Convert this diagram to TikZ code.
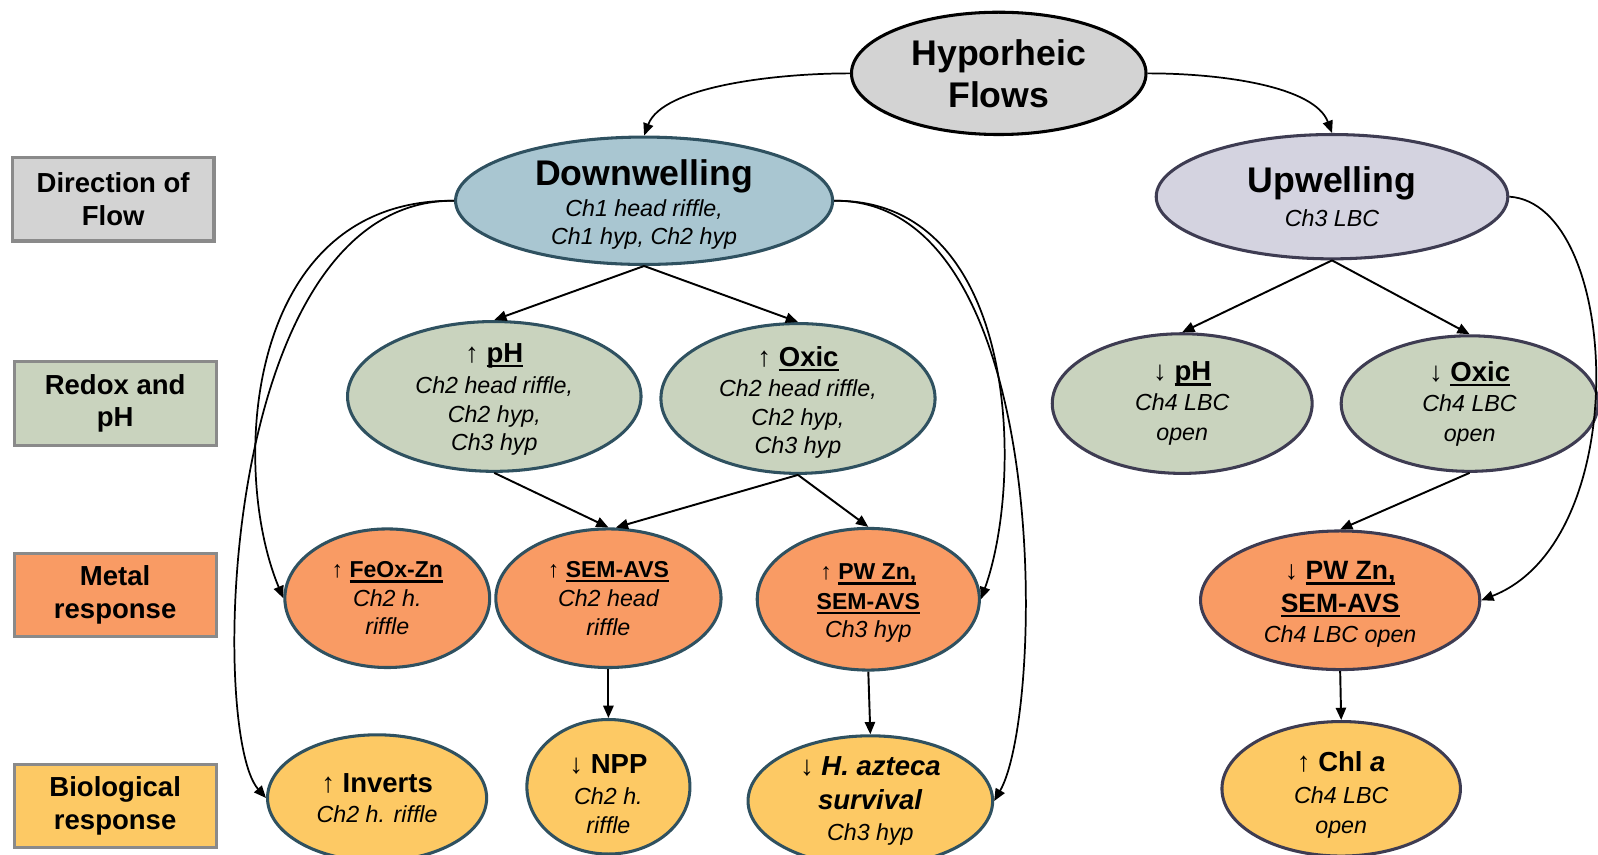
\documentclass[tikz,border=0pt]{standalone}
\usepackage{fontspec}
\setmainfont{Liberation Sans}
\usetikzlibrary{shapes.geometric,arrows.meta}
\definecolor{cGray}{HTML}{D3D3D3}
\definecolor{cBlue}{HTML}{A9C6D1}
\definecolor{cLav}{HTML}{D4D3E0}
\definecolor{cGreen}{HTML}{C9D3BE}
\definecolor{cOrange}{HTML}{F99B64}
\definecolor{cYellow}{HTML}{FDC964}
\definecolor{cTeal}{HTML}{2F5160}
\definecolor{cPurp}{HTML}{3E3C52}
\definecolor{cBoxLine}{HTML}{8A8A8A}
\newcommand\dgTitle{\fontsize{17.5pt}{20.5pt}\selectfont\bfseries\upshape}
\newcommand\dgSub{\fontsize{11.4pt}{14pt}\selectfont\itshape}
\newcommand\dgHead{\fontsize{13.5pt}{14pt}\selectfont\upshape}
\newcommand\dgHeadS{\fontsize{11.3pt}{14pt}\selectfont\upshape}
\newcommand\dgHeadM{\fontsize{13pt}{14pt}\selectfont\upshape}
\newcommand\dgLab{\fontsize{13.5pt}{16pt}\selectfont\bfseries}
\newcommand\dgUL[1]{\leavevmode\setbox0\hbox{#1}\rlap{\vrule width \wd0 height -1.3pt depth 2.5pt}\box0}
\begin{document}
\begin{tikzpicture}[x=0.5pt,y=-0.5pt,
  ell/.style={ellipse, draw, line width=1.5pt, inner sep=0pt, align=center,
     font=\fontsize{11.4pt}{14pt}\selectfont},
  lbl/.style={align=center, inner sep=0pt, font=\fontsize{11.4pt}{14pt}\selectfont},
  lbox/.style={rectangle, draw=cBoxLine, line width=1.5pt, inner sep=0pt, align=center,
     minimum width=99pt, minimum height=41pt, font=\dgLab},
  conn/.style={-{Triangle[length=6pt,width=5pt]}, line width=0.95pt},
  cconn/.style={-{Triangle[length=6pt,width=5pt]}, line width=0.85pt}]
\useasboundingbox (0,0) rectangle (1568,838);

% side labels
\node[lbox, fill=cGray] (lDir) at (111,195.5) {Direction of\\Flow};
\node[lbox, fill=cGreen] (lRed) at (113,396) {Redox and\\pH};
\node[lbox, fill=cOrange] (lMet) at (113,584) {Metal\\response};
\node[lbox, fill=cYellow] (lBio) at (113,791) {Biological\\response};

% top
\node[ell, fill=cGray, draw=black, minimum width=144.5pt, minimum height=60pt, font=\dgTitle] (hyp) at (980,72) {Hyporheic\\Flows};
\node[ell, fill=cBlue, draw=cTeal, minimum width=185pt, minimum height=62.5pt,
  label={[lbl, yshift=-2pt]center:{{\dgTitle Downwelling}\\[1pt]{\dgSub Ch1 head riffle,}\\{\dgSub Ch1 hyp, Ch2 hyp}}}] (down) at (632,197) {};
\node[ell, fill=cLav, draw=cPurp, minimum width=172.5pt, minimum height=61pt] (up) at (1307,193)
  {{\dgTitle Upwelling}\\[3pt]{\dgSub Ch3 LBC}};

% redox row
\node[ell, fill=cGreen, draw=cTeal, minimum width=144pt, minimum height=73.5pt,
  label={[lbl, yshift=-1.5pt]center:{{\dgHead ↑ \textbf{\dgUL{pH}}}\\[1.5pt]{\dgSub Ch2 head riffle,}\\{\dgSub Ch2 hyp,}\\{\dgSub Ch3 hyp}}}] (phL) at (485,389) {};
\node[ell, fill=cGreen, draw=cTeal, minimum width=134.5pt, minimum height=73.5pt,
  label={[lbl, yshift=-2pt]center:{{\dgHead ↑ \textbf{\dgUL{Oxic}}}\\[1pt]{\dgSub Ch2 head riffle,}\\{\dgSub Ch2 hyp,}\\{\dgSub Ch3 hyp}}}] (oxL) at (783,391) {};
\node[ell, fill=cGreen, draw=cPurp, minimum width=127.5pt, minimum height=68.5pt] (phR) at (1160,396)
  {{\dgHead ↓ \textbf{\dgUL{pH}}}\\[0.5pt]{\dgSub Ch4 LBC}\\[1pt]{\dgSub open}};
\node[ell, fill=cGreen, draw=cPurp, minimum width=126pt, minimum height=66.5pt] (oxR) at (1442,396)
  {{\dgHead ↓ \textbf{\dgUL{Oxic}}}\\[1pt]{\dgSub Ch4 LBC}\\[0.5pt]{\dgSub open}};

% metal row
\node[ell, fill=cOrange, draw=cTeal, minimum width=100.5pt, minimum height=68pt] (feox) at (380,587)
  {{\dgHeadS ↑ \textbf{\dgUL{FeOx-Zn}}}\\{\dgSub Ch2 h.}\\{\dgSub riffle}};
\node[ell, fill=cOrange, draw=cTeal, minimum width=110.5pt, minimum height=68pt] (sem) at (597,587)
  {{\dgHeadS ↑ \textbf{\dgUL{SEM-AVS}}}\\[0.5pt]{\dgSub Ch2 head}\\{\dgSub riffle}};
\node[ell, fill=cOrange, draw=cTeal, minimum width=109pt, minimum height=69.5pt,
  label={[lbl, yshift=-2pt]center:{{\dgHeadS ↑ \textbf{\dgUL{PW Zn,}}}\\[0.5pt]{\dgHeadS\textbf{\dgUL{SEM-AVS}}}\\{\dgSub Ch3 hyp}}}] (pwL) at (852,588) {};
\node[ell, fill=cOrange, draw=cPurp, minimum width=137pt, minimum height=68pt,
  label={[lbl, yshift=-2pt]center:{{\dgHeadM ↓ \textbf{\dgUL{PW Zn,}}}\\[2pt]{\dgHeadM\textbf{\dgUL{SEM-AVS}}}\\[1pt]{\dgSub Ch4 LBC open}}}] (pwR) at (1315,589) {};

% biological row
\node[ell, fill=cYellow, draw=cTeal, minimum width=107.5pt, minimum height=62pt] (inv) at (370,783)
  {{\dgHead ↑ \textbf{Inverts}}\\[1pt]{\dgSub Ch2 h. riffle}};
\node[ell, fill=cYellow, draw=cTeal, minimum width=80pt, minimum height=66pt,
  label={[lbl, yshift=-3.5pt]center:{{\dgHead ↓ \textbf{NPP}}\\[1.5pt]{\dgSub Ch2 h.}\\{\dgSub riffle}}}] (npp) at (597,772) {};
\node[ell, fill=cYellow, draw=cTeal, minimum width=120pt, minimum height=64pt] (haz) at (854,786)
  {{\dgHead ↓ \textbf{\textit{H. azteca}}}\\[2.5pt]{\dgHead\textbf{\textit{survival}}}\\[1pt]{\dgSub Ch3 hyp}};
\node[ell, fill=cYellow, draw=cPurp, minimum width=117pt, minimum height=66pt,
  label={[lbl, yshift=-3pt]center:{{\dgHead ↑ \textbf{Chl \textit{a}}}\\[1.5pt]{\dgSub Ch4 LBC}\\[0.5pt]{\dgSub open}}}] (chl) at (1316,774) {};

% connectors
\draw[cconn] (hyp.west) .. controls (760,72) and (650,85) .. (down.north);
\draw[cconn] (hyp.east) .. controls (1200,72) and (1290,85) .. (up.north);

\draw[conn] (down.south) -- (phL.north);
\draw[conn] (down.south) -- (oxL.north);
\draw[conn] (up.south) -- (phR.north);
\draw[conn] (up.south) -- (oxR.north);

\draw[conn] (phL.south) -- (sem.north);
\draw[conn] (oxL.south) -- (sem.84);
\draw[conn] (oxL.south) -- (pwL.north);
\draw[conn] (oxR.south) -- (pwR.north);

\draw[conn] (sem.south) -- (npp.north);
\draw[conn] (pwL.south) -- (haz.north);
\draw[conn] (pwR.south) -- (chl.north);

\draw[cconn] (down.west) .. controls (240,195) and (225,460) .. (feox.west);
\draw[cconn] (down.west) .. controls (215,195) and (205,720) .. (inv.west);
\draw[cconn] (down.east) .. controls (1000,195) and (1005,470) .. (pwL.east);
\draw[cconn] (down.east) .. controls (1035,195) and (1025,700) .. (haz.east);
\draw[cconn] (up.east) .. controls (1590,200) and (1605,530) .. (pwR.east);
\end{tikzpicture}
\end{document}
